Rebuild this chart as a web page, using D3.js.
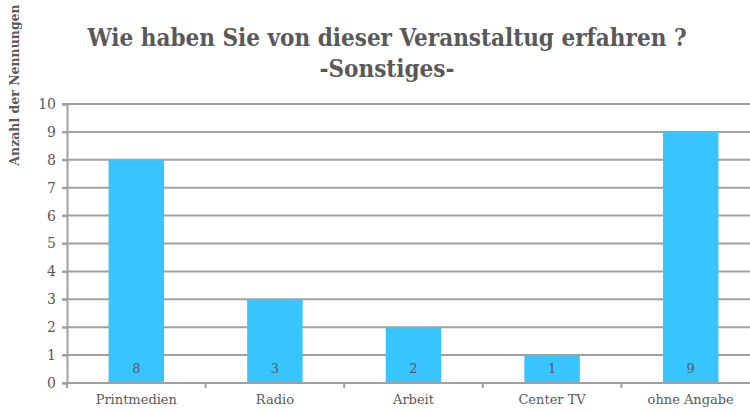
<!DOCTYPE html>
<html>
<head>
<meta charset="utf-8">
<script src="https://d3js.org/d3.v7.min.js"></script>
<style>
  body { margin: 0; background: #fff; }
  svg text { font-family: "DejaVu Serif", serif; fill: #595959; }
</style>
</head>
<body>
<div id="chart"></div>
<script>
const width = 750;
const height = 412;
var margin = {top: 104, bottom: 29, left: 67, right: -10};

var categories = ["Printmedien", "Radio", "Arbeit", "Center TV", "ohne Angabe"];
var values = [8, 3, 2, 1, 9];
var yTicks = [0, 1, 2, 3, 4, 5, 6, 7, 8, 9, 10];
var titleLines = ["Wie haben Sie von dieser Veranstaltug erfahren ?", "-Sonstiges-"];
var yLabel = "Anzahl der Nennungen";

var svg = d3.select("#chart").append("svg")
  .attr("width", width)
  .attr("height", height);

// ******** SCALES ********
var x = d3.scaleBand()
  .domain(categories)
  .range([margin.left, width - margin.right])
  .paddingInner(0.6)
  .paddingOuter(0.3);

var y = d3.scaleLinear()
  .domain([0, 10])
  .range([height - margin.bottom, margin.top]);

// ******** GRID ********
svg.append("g")
  .selectAll("line")
  .data(yTicks.slice(1))
  .enter().append("line")
  .attr("x1", margin.left - 5)
  .attr("x2", width)
  .attr("y1", d => y(d))
  .attr("y2", d => y(d))
  .attr("stroke", "#a0a0a0")
  .attr("stroke-width", 2);

// ******** BARS ********
svg.append("g")
  .selectAll("rect")
  .data(values)
  .enter().append("rect")
  .attr("x", (d, i) => x(categories[i]))
  .attr("y", d => y(d))
  .attr("width", x.bandwidth())
  .attr("height", d => y(0) - y(d))
  .attr("fill", "#38c4ff");

// value labels
svg.append("g")
  .selectAll("text")
  .data(values)
  .enter().append("text")
  .attr("x", (d, i) => x(categories[i]) + x.bandwidth() / 2)
  .attr("y", y(0) - 10)
  .attr("text-anchor", "middle")
  .style("font-size", "13px")
  .text(d => d);

// ******** AXES ********
var step = x.step();
var yAxis = d3.axisLeft(y).tickValues(yTicks).tickSize(5).tickPadding(6);
var gy = svg.append("g")
  .attr("transform", `translate(${margin.left},0)`)
  .call(yAxis);
gy.select(".domain").attr("stroke", "#a0a0a0").attr("stroke-width", 2);
gy.selectAll(".tick line").attr("stroke", "#a0a0a0").attr("stroke-width", 2);
gy.selectAll("text").style("font-size", "14px").style("font-family", "DejaVu Serif").attr("fill", "#595959");

// x baseline
svg.append("line")
  .attr("x1", margin.left - 5)
  .attr("x2", width)
  .attr("y1", y(0))
  .attr("y2", y(0))
  .attr("stroke", "#a0a0a0")
  .attr("stroke-width", 2);

// boundary ticks between categories
var bounds = d3.range(categories.length + 1).map(i => margin.left + i * step);
svg.append("g")
  .selectAll("line")
  .data(bounds)
  .enter().append("line")
  .attr("x1", d => d)
  .attr("x2", d => d)
  .attr("y1", y(0))
  .attr("y2", y(0) + 5)
  .attr("stroke", "#a0a0a0")
  .attr("stroke-width", 2);

svg.append("g")
  .selectAll("text")
  .data(categories)
  .enter().append("text")
  .attr("x", d => x(d) + x.bandwidth() / 2)
  .attr("y", y(0) + 21)
  .attr("text-anchor", "middle")
  .style("font-size", "13px")
  .text(d => d);

// ******** TITLE ********
svg.append("g")
  .selectAll("text")
  .data(titleLines)
  .enter().append("text")
  .attr("x", 387)
  .attr("y", (d, i) => 46 + i * 31)
  .attr("text-anchor", "middle")
  .style("font-family", "DejaVu Serif Condensed")
  .style("font-weight", "bold")
  .style("font-size", "24px")
  .text(d => d);

// ******** Y LABEL ********
svg.append("text")
  .attr("transform", "translate(19,85) rotate(-90)")
  .attr("text-anchor", "middle")
  .style("font-weight", "bold")
  .style("font-size", "12.5px")
  .text(yLabel);
</script>
</body>
</html>
